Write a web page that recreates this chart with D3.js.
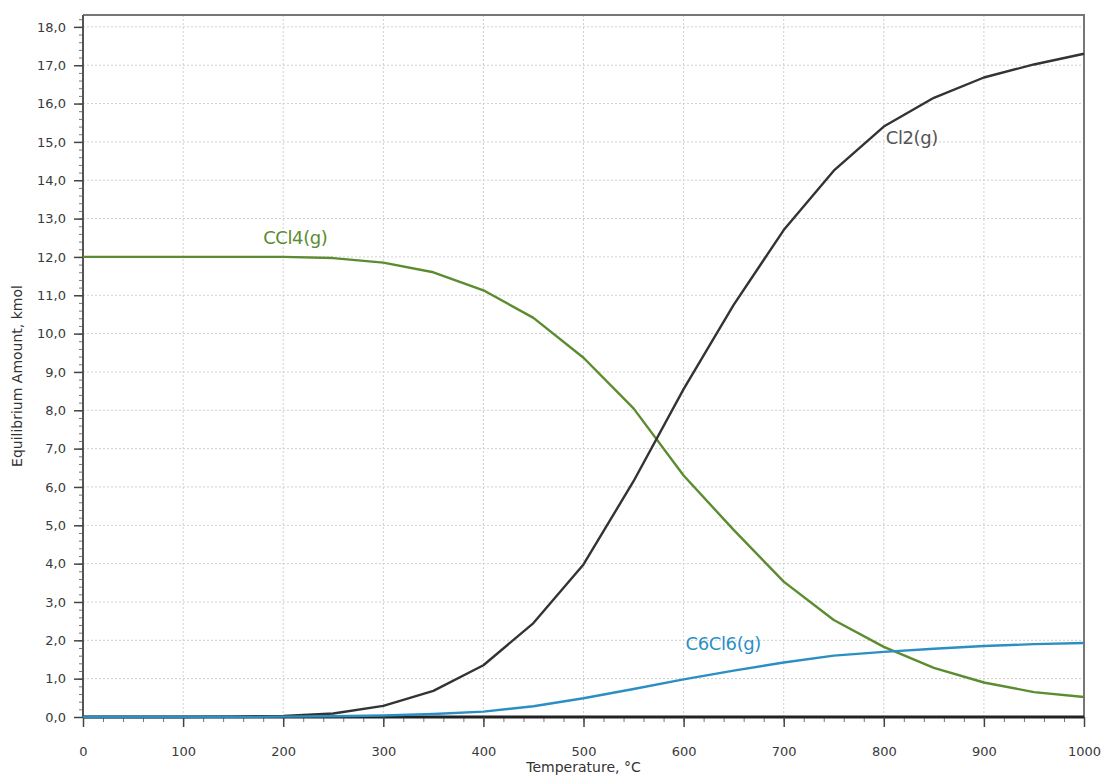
<!DOCTYPE html>
<html>
<head>
<meta charset="utf-8">
<script src="https://cdn.jsdelivr.net/npm/d3@7"></script>
<style>
  body { margin: 0; background: #fff; }
  svg { display: block; font-family: Tahoma, "DejaVu Sans", sans-serif; }
</style>
</head>
<body>
<svg id="chart" width="1102" height="776"></svg>
<script>
// Temperature steps, °C
const temperatures = [0, 50, 100, 150, 200, 250, 300, 350, 400, 450, 500, 550, 600, 650, 700, 750, 800, 850, 900, 950, 1000];

// Equilibrium amounts, kmol
const cl2 = [0, 0, 0, 0.01, 0.03, 0.09, 0.29, 0.68, 1.35, 2.45, 3.98, 6.15, 8.55, 10.75, 12.7, 14.25, 15.4, 16.15, 16.68, 17.02, 17.3];
const ccl4 = [12.0, 12.0, 12.0, 12.0, 12.0, 11.97, 11.85, 11.6, 11.13, 10.41, 9.37, 8.05, 6.3, 4.88, 3.53, 2.53, 1.83, 1.28, 0.9, 0.65, 0.52];
const c6cl6 = [0, 0, 0, 0, 0.01, 0.02, 0.04, 0.08, 0.14, 0.28, 0.49, 0.73, 0.98, 1.21, 1.42, 1.6, 1.7, 1.78, 1.85, 1.9, 1.93];

const series = [
  { name: "CCl4(g)", values: ccl4, color: "#5b8c2f", label: [180, 12.35] },
  { name: "Cl2(g)", values: cl2, color: "#333333", label: [802, 14.95], textColor: "#555" },
  { name: "C6Cl6(g)", values: c6cl6, color: "#2b8fc4", label: [602, 1.75] }
];

const xTicks = d3.range(0, 1001, 100);
const yTicks = d3.range(0, 18.01, 1);

const margin = { top: 15, right: 18, bottom: 59, left: 83 };
const svg = d3.select("#chart");
const width = +svg.attr("width") - margin.left - margin.right;
const height = +svg.attr("height") - margin.top - margin.bottom;

const x = d3.scaleLinear().domain([0, 1000]).range([0, width]);
const y = d3.scaleLinear().domain([0, 18.31]).range([height, 0]);

const g = svg.append("g").attr("transform", `translate(${margin.left},${margin.top})`);

// grid
g.append("g")
  .selectAll("line")
  .data(yTicks.slice(1))
  .join("line")
  .attr("x1", 0).attr("x2", width)
  .attr("y1", d => y(d)).attr("y2", d => y(d))
  .attr("stroke", "#cfcfcf").attr("stroke-dasharray", "2,2");
g.append("g")
  .selectAll("line")
  .data(xTicks.slice(1, -1))
  .join("line")
  .attr("y1", 0).attr("y2", height)
  .attr("x1", d => x(d)).attr("x2", d => x(d))
  .attr("stroke", "#cfcfcf").attr("stroke-dasharray", "2,2");

// frame top/right
g.append("path")
  .attr("d", `M0,0H${width}V${height}`)
  .attr("fill", "none").attr("stroke", "#777").attr("stroke-width", 2);

// minor ticks
const yMinor = d3.axisLeft(y).tickValues(d3.range(0, 18.31, 0.2)).tickSize(4).tickFormat("");
g.append("g").call(yMinor).call(a => a.select(".domain").remove())
  .selectAll("line").attr("stroke", "#777");
const xMinor = d3.axisBottom(x).tickValues(d3.range(0, 1001, 20)).tickSize(5).tickFormat("");
g.append("g").attr("transform", `translate(0,${height})`).call(xMinor)
  .call(a => a.select(".domain").remove())
  .selectAll("line").attr("stroke", "#777");

// major axes
const fmt = d => d.toFixed(1).replace(".", ",");
const yAxis = g.append("g")
  .call(d3.axisLeft(y).tickValues(yTicks).tickSize(9).tickPadding(8).tickFormat(fmt))
  .attr("font-size", 13).attr("font-family", "DejaVu Sans");
yAxis.select(".domain").attr("stroke", "#555").attr("stroke-width", 2).attr("d", `M0,${height}V0`);
yAxis.selectAll("line").attr("stroke", "#444").attr("stroke-width", 1.5);
yAxis.selectAll("text").attr("fill", "#3a3a3a");

const xAxis = g.append("g").attr("transform", `translate(0,${height})`)
  .call(d3.axisBottom(x).tickValues(xTicks).tickSize(10).tickPadding(20).tickFormat(d3.format("d")))
  .attr("font-size", 13).attr("font-family", "DejaVu Sans");
xAxis.select(".domain").attr("stroke", "#222").attr("stroke-width", 3).attr("d", `M0,0H${width}`);
xAxis.selectAll("line").attr("stroke", "#444").attr("stroke-width", 1.5);
xAxis.selectAll("text").attr("fill", "#3a3a3a");

// axis titles
svg.append("text")
  .attr("x", margin.left + width / 2).attr("y", 772)
  .attr("text-anchor", "middle").attr("font-size", 14).attr("fill", "#333")
  .text("Temperature, °C");
svg.append("text")
  .attr("transform", `translate(22,${margin.top + height / 2 + 10}) rotate(-90)`)
  .attr("text-anchor", "middle").attr("font-size", 14).attr("fill", "#333")
  .text("Equilibrium Amount, kmol");

// lines
const line = d3.line()
  .x((d, i) => x(temperatures[i]))
  .y(d => y(d));

series.forEach(s => {
  g.append("path")
    .datum(s.values)
    .attr("fill", "none")
    .attr("stroke", s.color)
    .attr("stroke-width", 2.4)
    .attr("stroke-linejoin", "round")
    .attr("d", line);
  g.append("text")
    .attr("x", x(s.label[0])).attr("y", y(s.label[1]))
    .attr("font-size", 18)
    .attr("letter-spacing", -0.4)
    .attr("fill", s.textColor || s.color)
    .text(s.name);
});
</script>
</body>
</html>
